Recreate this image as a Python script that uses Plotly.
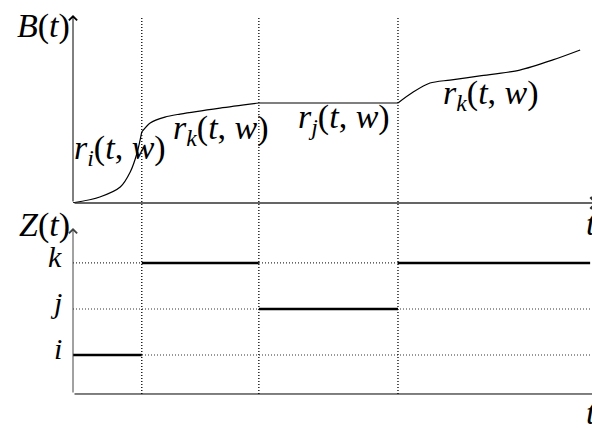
import plotly.graph_objects as go

# switching times of the regime process Z(t) and the regimes in between
switch_t = [0, 1.31, 3.54, 6.19, 9.85]
regimes = ["i", "k", "j", "k"]
levels = {"i": 1, "j": 2, "k": 3}

# B(t) sampled piece by piece, one list per regime
b_pieces_t = [
    [0, 0.51, 0.90, 1.09, 1.22, 1.31],
    [1.31, 1.47, 1.75, 2.04, 2.80, 3.54],
    [3.54, 6.19],
    [6.19, 6.48, 6.80, 7.18, 7.75, 8.51, 9.14, 9.66],
]
b_pieces_val = [
    [0, 0.32, 0.85, 1.65, 2.66, 3.78],
    [3.78, 4.26, 4.57, 4.73, 5.05, 5.32],
    [5.32, 5.32],
    [5.32, 5.90, 6.38, 6.54, 6.76, 7.07, 7.61, 8.14],
]
rate_labels = ["i", "k", "j", "k"]

T_MAX = 10
B_MAX = 10
Z_RANGE = [0.152, 3.76]

FONT = "Liberation Serif"
FSIZE = 34

fig = go.Figure()

# B(t) curve, one spline per regime so the switches keep their corners
for ts, vs in zip(b_pieces_t, b_pieces_val):
    fig.add_trace(go.Scatter(
        x=ts, y=vs, mode="lines", xaxis="x", yaxis="y",
        line=dict(color="black", width=1.2, shape="spline", smoothing=0.8),
        hoverinfo="skip", showlegend=False,
    ))

# dotted reference levels for i, j, k
for name in ["i", "j", "k"]:
    fig.add_trace(go.Scatter(
        x=[switch_t[0], switch_t[-1]], y=[levels[name]] * 2,
        mode="lines", xaxis="x2", yaxis="y2",
        line=dict(color="#333", width=1.2, dash="1px,2px"),
        hoverinfo="skip", showlegend=False,
    ))

# Z(t) step segments
zx, zy = [], []
for a, b, r in zip(switch_t[:-1], switch_t[1:], regimes):
    zx += [a, b, None]
    zy += [levels[r], levels[r], None]
fig.add_trace(go.Scatter(
    x=zx, y=zy, mode="lines", xaxis="x2", yaxis="y2",
    line=dict(color="black", width=2.5),
    hoverinfo="skip", showlegend=False,
))

# dotted verticals at the switching times, through both panels
for t in switch_t[1:-1]:
    fig.add_shape(type="line", xref="x", yref="paper", x0=t, x1=t, y0=0, y1=0.995,
                  line=dict(color="black", width=1.3, dash="1px,2px"))

# axes drawn as arrows
arrow = dict(showarrow=True, arrowhead=4, arrowsize=1.6, arrowwidth=1,
             arrowcolor="black", text="", standoff=0)
fig.add_annotation(x=T_MAX, y=0, ax=0, ay=0, xref="x", yref="y", axref="x", ayref="y",
                   **{**arrow, "arrowcolor": "#333", "arrowwidth": 1.4})
fig.add_annotation(x=0, y=B_MAX, ax=0, ay=0, xref="x", yref="y", axref="x", ayref="y", **arrow)
fig.add_annotation(x=T_MAX, y=Z_RANGE[0], ax=0, ay=Z_RANGE[0], xref="x2", yref="y2",
                   axref="x2", ayref="y2", **arrow)
fig.add_annotation(x=0, y=Z_RANGE[1], ax=0, ay=Z_RANGE[0], xref="x2", yref="y2",
                   axref="x2", ayref="y2", **{**arrow, "arrowcolor": "#444"})

text_font = dict(family=FONT, size=FSIZE, color="black")

# r(t, w) labels
label_pos = [(0.895, 2.82), (2.82, 3.88), (5.16, 4.47), (7.96, 5.74)]
for (lx, ly), r in zip(label_pos, rate_labels):
    fig.add_annotation(
        x=lx, y=ly, xref="x", yref="y", showarrow=False,
        text=f"<i>r</i><sub><i>{r}</i></sub>(<i>t</i>, <i>w</i>)",
        font=text_font,
    )

# level names next to the Z(t) axis
for name in ["i", "j", "k"]:
    fig.add_annotation(x=0, y=levels[name], xref="paper", yref="y2", xanchor="right",
                       xshift=-9, yshift=6, showarrow=False,
                       text=f"<i>{name}</i>", font=dict(family=FONT, size=30, color="black"))

corner = dict(xref="paper", yref="paper", showarrow=False, font=text_font)
fig.add_annotation(x=0, y=0.971, xanchor="right", yanchor="middle", xshift=-1,
                   text="<i>B</i>(<i>t</i>)", **corner)
fig.add_annotation(x=0, y=0.447, xanchor="right", yanchor="middle", xshift=-1,
                   text="<i>Z</i>(<i>t</i>)", **corner)
fig.add_annotation(x=0.988, y=0.449, xanchor="center", yanchor="middle",
                   text="<i>t</i>", **corner)
fig.add_annotation(x=0.988, y=-0.05, xanchor="center", yanchor="middle",
                   text="<i>t</i>", **corner)

hidden = dict(showgrid=False, zeroline=False, showline=False, showticklabels=False, ticks="")
# page body keeps its default 8px margin, so the figure is 8px smaller each way
fig.update_layout(
    width=592, height=422,
    margin=dict(l=65, r=2, t=7, b=36),
    paper_bgcolor="white", plot_bgcolor="white",
    xaxis=dict(domain=[0, 1], range=[0, T_MAX], anchor="y", **hidden),
    yaxis=dict(domain=[0.504, 1], range=[0, B_MAX], anchor="x", **hidden),
    xaxis2=dict(domain=[0, 1], range=[0, T_MAX], anchor="y2", matches="x", **hidden),
    yaxis2=dict(domain=[0, 0.438], range=Z_RANGE, anchor="x2", **hidden),
)

fig.write_html("out.html")
